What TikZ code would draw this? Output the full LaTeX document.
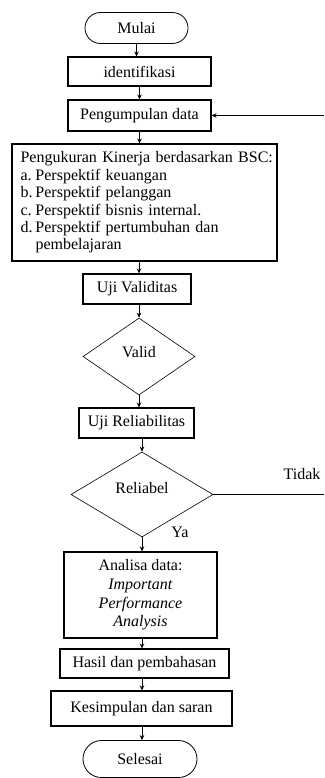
\documentclass[tikz,border=0pt]{standalone}
\usepackage{fontspec}
\setmainfont{Liberation Serif}
\usetikzlibrary{arrows.meta,shapes.geometric,shapes.misc}

\begin{document}
\begin{tikzpicture}[x=1pt,y=-1pt,
		font=\fontsize{16}{17.4}\selectfont,
		terminal/.style={draw,line width=0.8pt,rounded rectangle,minimum width=#1,minimum height=31,inner sep=0pt},
		prosesbox/.style={draw,line width=1.1pt,minimum height=30,inner sep=0pt,minimum width=#1},
		cek/.style={draw,line width=0.6pt,diamond,inner sep=0pt},
		arr/.style={-{Stealth[length=5pt,width=4.5pt]},line width=0.8pt}]
	\useasboundingbox (0,0) rectangle (324,778);
		%awal
			\node[terminal=103] (mulai) at (136.5,28) {Mulai};
			\node[prosesbox=143,minimum height=29] (identifikasi) at (139.5,71.5) {identifikasi};
			\node[prosesbox=143,minimum height=31] (kumpul) at (139.5,115.5) {Pengumpulan data};
		%pengukuran BSC
			\node[draw,line width=1.1pt,minimum width=265,minimum height=117,inner sep=0pt,text width=248,align=left] (bsc) at (144.5,202.5) {%
				\mbox{Pengukuran Kinerja berdasarkan BSC:}\\
				\makebox[15pt][l]{a.}Perspektif keuangan\\
				\makebox[15pt][l]{b.}Perspektif pelanggan\\
				\makebox[15pt][l]{c.}Perspektif bisnis internal.\\
				\makebox[15pt][l]{d.}Perspektif pertumbuhan dan\\
				\hspace*{15pt}pembelajaran};
		%uji
			\node[prosesbox=108] (validitas) at (137,289) {Uji Validitas};
			\node[cek,minimum width=112,minimum height=77,text depth=10pt] (valid) at (139,356.5) {Valid};
			\node[prosesbox=115] (reliabilitas) at (136.5,423) {Uji Reliabilitas};
			\node[cek,minimum width=142,minimum height=85,text depth=14pt] (reliabel) at (142,494.5) {Reliabel};
		%akhir
			\node[prosesbox=153,minimum height=86,align=center,font=\fontsize{16}{18.7}\selectfont] (analisa) at (140.5,595) {Analisa data:\\\textit{Important}\\\textit{Performance}\\\textit{Analysis}};
			\node[prosesbox=169,minimum height=29] (hasil) at (144.5,663.5) {Hasil dan pembahasan};
			\node[prosesbox=181,minimum height=35] (simpulan) at (141.5,708.5) {Kesimpulan dan saran};
			\node[terminal=114,minimum height=37] (selesai) at (140,759) {Selesai};
		%labels
			\node (ya) at (180,532) {Ya};
			\node (tidak) at (302,474) {Tidak};
		%arrows
			\draw[arr] (mulai.south) -- (mulai.south |- identifikasi.north);
			\draw[arr] (identifikasi.south) -- (identifikasi.south |- kumpul.north);
			\draw[arr] (kumpul.south) -- (kumpul.south |- bsc.north);
			\draw[arr] (bsc.south -| valid.north) -- (valid.north |- validitas.north);
			\draw[arr] (validitas.south -| valid.north) -- (valid.north);
			\draw[arr] (valid.south) -- (valid.south |- reliabilitas.north);
			\draw[arr] (reliabilitas.south -| reliabel.north) -- (reliabel.north);
			\draw[arr] (reliabel.south) -- (reliabel.south |- analisa.north);
			\draw[arr] (analisa.south -| reliabel.south) -- (reliabel.south |- hasil.north);
			\draw[arr] (hasil.south -| reliabel.south) -- (reliabel.south |- simpulan.north);
			\draw[arr] (simpulan.south -| reliabel.south) -- (reliabel.south |- selesai.north);
		%loop balik
			\coordinate (tidakout) at (324,494.5);
			\coordinate (balikin) at (324,115.5);
			\draw[line width=1pt] (reliabel.east) -- (tidakout);
			\draw[arr,line width=1pt] (balikin) -- (kumpul.east);
	\end{tikzpicture}
\end{document}
